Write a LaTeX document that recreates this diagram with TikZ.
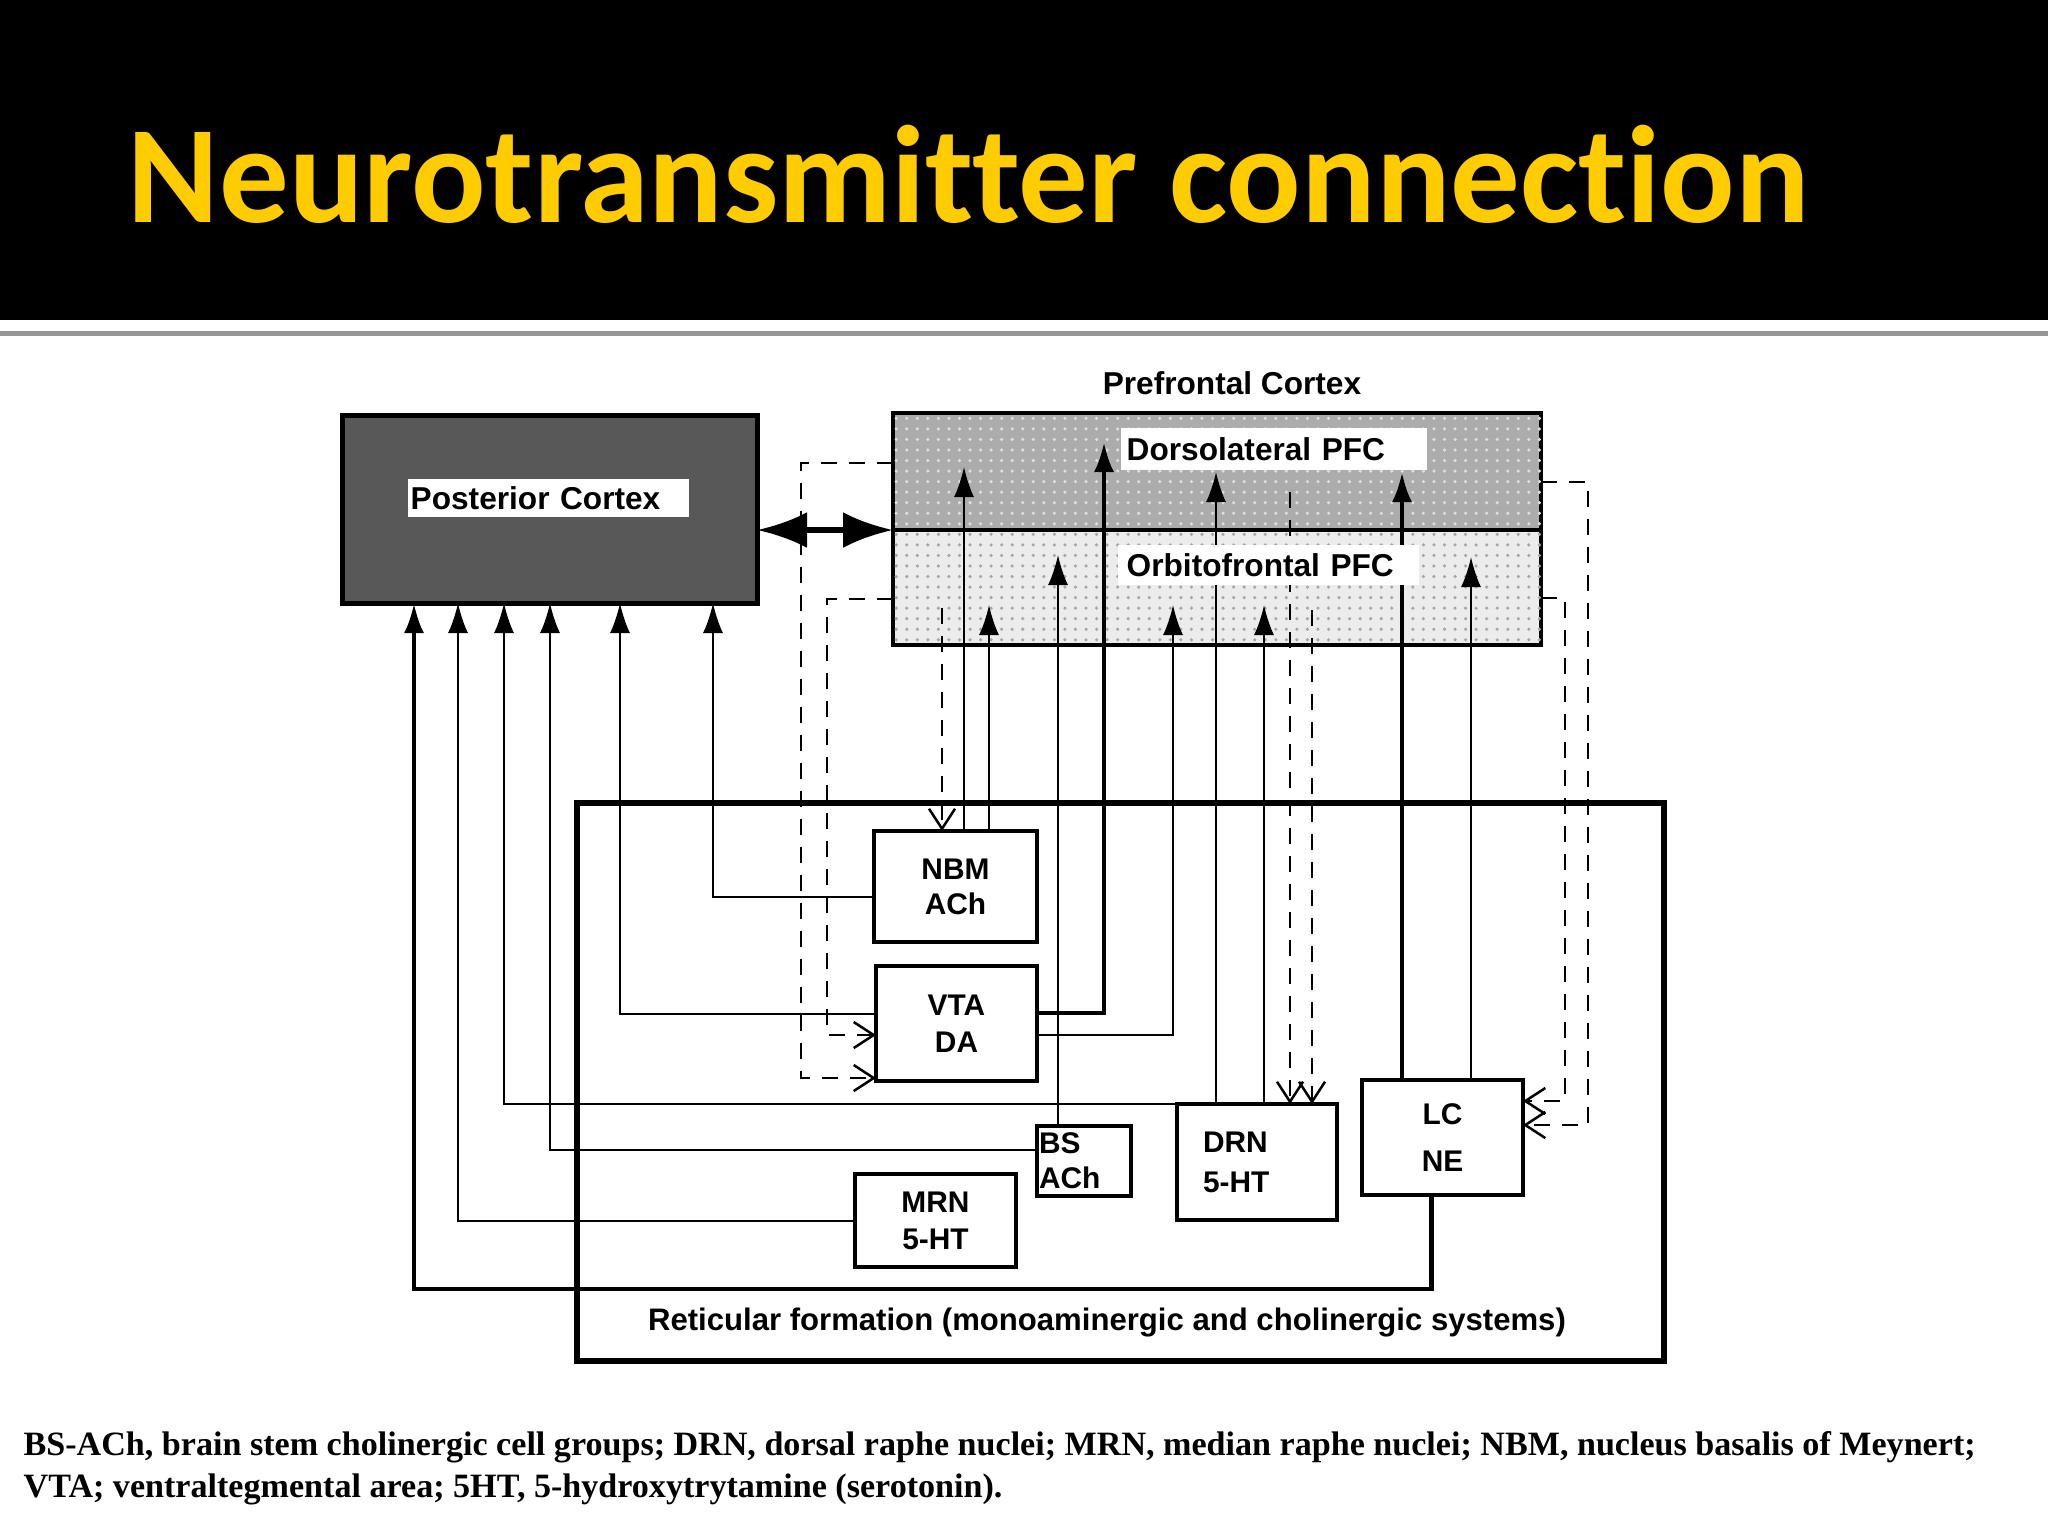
\documentclass[tikz,border=0pt]{standalone}
\usepackage{fontspec}
\setmainfont{Liberation Serif}
\setsansfont{Liberation Sans}
\newfontfamily\titlefont[Ligatures=NoCommon]{Carlito}
\usepackage{tikz}
\usetikzlibrary{arrows.meta}
\usetikzlibrary{patterns}
\definecolor{titleyellow}{RGB}{255,204,0}
\definecolor{pcgray}{RGB}{88,88,88}
\definecolor{dlgray}{RGB}{172,172,172}
\definecolor{ofgray}{RGB}{236,236,236}
\definecolor{rulegray}{RGB}{150,150,150}

\begin{document}
\begin{tikzpicture}[x=0.1mm, y=-0.1mm, nucleus/.style={rectangle, draw, line width=0.4mm, fill=white, inner sep=0pt, outer sep=0pt, align=center, font=\sffamily\bfseries\fontsize{8.5}{10}\selectfont}, region/.style={rectangle, draw, line width=0.45mm, inner sep=0pt, outer sep=0pt, minimum width=64.8mm}, tag/.style={fill=white, inner sep=0pt, align=left, font=\sffamily\bfseries\fontsize{9}{11}\selectfont}, fibre/.style={line width=0.2mm, -{Latex[length=3mm, width=2mm]}}, thickfibre/.style={fibre, line width=0.45mm}, dashfibre/.style={line width=0.25mm, dash pattern=on 1.6mm off 1.2mm, -{Straight Barb[length=2mm, width=2.6mm]}}, bigarrow/.style={line width=0.6mm, {Latex[length=5mm, width=3.6mm]}-{Latex[length=5mm, width=3.6mm]}}]
\fill[white] (0,0) rectangle (2048,1536);
\useasboundingbox (0,0) rectangle (2048,1536);
\fill[black] (0,0) rectangle (2048,320);
\fill[rulegray] (0,331) rectangle (2048,336);
\node[anchor=base west, inner sep=0pt, text=titleyellow, font=\titlefont\bfseries\fontsize{39.5}{47}\selectfont] (title) at (127,222) {Neurotransmitter connection};

\node[rectangle, draw, line width=0.65mm, inner sep=0pt, outer sep=0pt, minimum width=108.7mm, minimum height=55.8mm] (rf) at (1120.5,1082) {};
\node[rectangle, draw, line width=0.5mm, fill=pcgray, inner sep=0pt, outer sep=0pt, minimum width=41.5mm, minimum height=18.8mm] (pc) at (549.5,509) {};
\node[region, fill=dlgray, postaction={pattern=dots, pattern color=white!75!gray}, minimum height=11.7mm] (dl) at (1217,471.5) {};
\node[region, fill=ofgray, postaction={pattern=dots, pattern color=gray!70}, minimum height=11.5mm] (of) at (1217,587.5) {};

\node[nucleus, minimum width=16.3mm, minimum height=11.1mm] (nbm) at (955.5,886.5) {NBM\\ACh};
\node[nucleus, minimum width=16.1mm, minimum height=11.5mm] (vta) at (956.5,1023.5) {VTA\\[0.2mm]DA};
\node[nucleus, minimum width=9.4mm, minimum height=7mm, text width=9mm, align=left] (bs) at (1084,1161) {BS\\ACh};
\node[nucleus, minimum width=16mm, minimum height=11.6mm, text width=10.8mm, align=left] (drn) at (1257,1162) {DRN\\[0.5mm]5-HT};
\node[nucleus, minimum width=16.1mm, minimum height=11.5mm] (lc) at (1442.5,1137.5) {LC\\[1.2mm]NE};
\node[nucleus, minimum width=16.1mm, minimum height=9.3mm] (mrn) at (935.5,1220.5) {MRN\\[0.2mm]5-HT};

\coordinate (p1) at (414,603);
\coordinate (p2) at (458,603);
\coordinate (p3) at (504,603);
\coordinate (p4) at (550,603);
\coordinate (p5) at (620,603);
\coordinate (p6) at (713,603);
\draw[thickfibre] ([xshift=-1.1mm]lc.south) -- ++(0,94) -| (p1);
\draw[fibre] (mrn.west) -| (p2);
\draw[fibre] (drn.north west) -| (p3);
\draw[fibre] ([yshift=1.1mm]bs.west) -| (p4);
\draw[fibre] ([yshift=1mm]vta.west) -| (p5);
\draw[fibre] ([yshift=-1mm]nbm.west) -| (p6);

\coordinate (t1) at (964,467);
\coordinate (t2) at (989,605);
\coordinate (t3) at (1058,555);
\coordinate (t4) at (1104,442);
\coordinate (t5) at (1173,605);
\coordinate (t6) at (1216,472);
\coordinate (t7) at (1264,605);
\coordinate (t8) at (1402,472);
\coordinate (t9) at (1471,557);
\draw[fibre] (nbm.north -| t1) -- (t1);
\draw[fibre] (nbm.north -| t2) -- (t2);
\draw[fibre] (bs.north -| t3) -- (t3);
\draw[thickfibre] ([yshift=1.05mm]vta.east) -| (t4);
\draw[fibre] ([yshift=-1.15mm]vta.east) -| (t5);
\draw[fibre] (drn.north -| t6) -- (t6);
\draw[fibre] (drn.north -| t7) -- (t7);
\draw[thickfibre] (lc.north -| t8) -- (t8);
\draw[fibre] (lc.north -| t9) -- (t9);

\coordinate (s1) at (942,608);
\coordinate (s2) at (1290,492);
\coordinate (s3) at (1312,610);
\draw[dashfibre] (s1) -- (nbm.north -| s1);
\draw[dashfibre] (s2) -- (drn.north -| s2);
\draw[dashfibre] (s3) -- (drn.north -| s3);
\draw[dashfibre] ([yshift=-1.05mm]dl.east) -- ++(47,0) |- ([yshift=1.25mm]lc.east);
\draw[dashfibre] ([yshift=-1.05mm]of.east) -- ++(24,0) |- ([yshift=3.65mm]lc.east);
\draw[dashfibre] ([yshift=0.85mm]dl.west) -- ++(-92,0) |- ([yshift=0.3mm]vta.south west);
\draw[dashfibre] ([yshift=-1.15mm]of.west) -- ++(-66,0) |- ([yshift=-1.15mm]vta.west);
\draw[bigarrow] (pc.east |- dl.south west) -- (dl.south west);

\node[tag, anchor=west, minimum height=3.8mm, text width=27.5mm, inner xsep=0.3mm] (pclabel) at (407,498) {Posterior Cortex};
\node[tag, anchor=west, minimum height=4.2mm, text width=29.4mm, inner xsep=0.6mm] (dllabel) at (1120,449) {Dorsolateral PFC};
\node[tag, anchor=west, minimum height=4mm, text width=28.3mm, inner xsep=0.9mm] (oflabel) at (1117,565) {Orbitofrontal PFC};
\node[font=\sffamily\bfseries\fontsize{9}{11}\selectfont] (pfclabel) at (1232,383) {Prefrontal Cortex};
\node[font=\sffamily\bfseries\fontsize{8.85}{10}\selectfont] (rflabel) at (1107,1322) {Reticular formation (monoaminergic and cholinergic systems)};

\node[anchor=base west, inner sep=0pt, font=\rmfamily\bfseries\fontsize{9.7}{12}\selectfont] (caption1) at (23,1455) {BS-ACh, brain stem cholinergic cell groups; DRN, dorsal raphe nuclei; MRN, median raphe nuclei; NBM, nucleus basalis of Meynert;};
\node[anchor=base west, inner sep=0pt, font=\rmfamily\bfseries\fontsize{9.7}{12}\selectfont] (caption2) at (23,1497) {VTA; ventraltegmental area; 5HT, 5-hydroxytrytamine (serotonin).};
\end{tikzpicture}
\end{document}
